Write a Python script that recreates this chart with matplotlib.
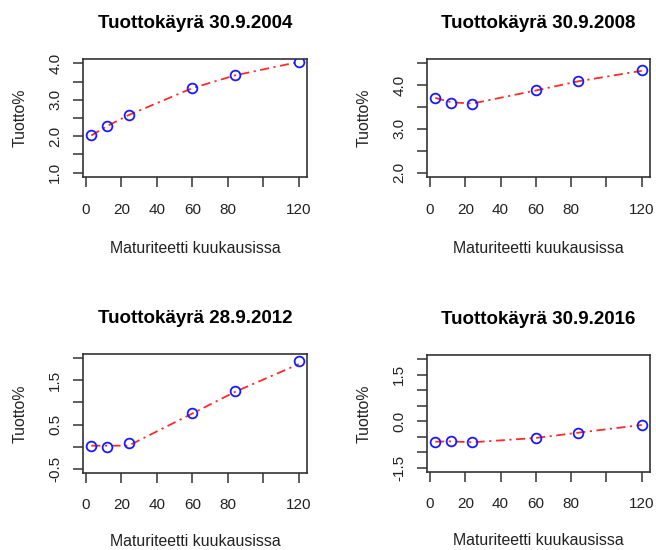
import numpy as np
import matplotlib
matplotlib.use("Agg")
from matplotlib import pyplot as plt

plt.rcParams['font.family'] = ['Liberation Sans', 'DejaVu Sans']

# maturiteetit kuukausina
maturities = [3, 12, 24, 60, 84, 120]

# havaitut tuotot (%)
yields_2004 = [2.02, 2.27, 2.57, 3.32, 3.67, 4.04]
yields_2008 = [3.71, 3.60, 3.58, 3.88, 4.09, 4.34]
yields_2012 = [0.02, -0.02, 0.07, 0.76, 1.27, 1.93]
yields_2016 = [-0.66, -0.64, -0.66, -0.53, -0.37, -0.11]

# sovitettu käyrä samoissa pisteissä
fit_2004 = [2.02, 2.28, 2.58, 3.32, 3.67, 4.04]
fit_2008 = [3.71, 3.61, 3.58, 3.88, 4.09, 4.33]
fit_2012 = [0.02, 0.02, 0.02, 0.75, 1.24, 1.87]
fit_2016 = [-0.66, -0.65, -0.68, -0.54, -0.37, -0.12]

titles = ["Tuottokäyrä 30.9.2004", "Tuottokäyrä 30.9.2008",
          "Tuottokäyrä 28.9.2012", "Tuottokäyrä 30.9.2016"]
ylims = [(1.0, 4.0), (2.0, 4.5), (-0.5, 2.0), (-1.5, 2.0)]
ylabels_shown = [[1.0, 2.0, 3.0, 4.0], [2.0, 3.0, 4.0],
                 [-0.5, 0.5, 1.5], [-1.5, 0.0, 1.5]]
x_ticks = [0, 20, 40, 60, 80, 100, 120]
x_ticklabels = ["0", "20", "40", "60", "80", "", "120"]

all_yields = [yields_2004, yields_2008, yields_2012, yields_2016]
all_fits = [fit_2004, fit_2008, fit_2012, fit_2016]

W, H = 656, 550
fig = plt.figure(figsize=(W / 100, H / 100), dpi=100)

# paneelien paikat pikseleinä: vasen, yläreuna, oikea, alareuna
boxes = [(83, 59, 307, 177), (427, 59, 650, 177),
         (83, 354, 307, 473), (427, 355, 650, 472)]

for i in range(4):
    l, t, r, b = boxes[i]
    ax = fig.add_axes([l / W, 1 - b / H, (r - l) / W, (b - t) / H])

    ax.plot(maturities, all_fits[i], color='#ff2a2a', lw=1.3,
            linestyle=(0, (5, 2.5, 1.2, 2.5)), zorder=2)
    ax.plot(maturities, all_yields[i], 'o', ms=7, mfc='none',
            mec='#1a1aff', mew=1.3, zorder=3)

    pad_x = 0.04 * (maturities[-1] - maturities[0])
    ax.set_xlim(maturities[0] - pad_x, maturities[-1] + pad_x)
    lo, hi = ylims[i]
    pad_y = 0.04 * (hi - lo)
    ax.set_ylim(lo - pad_y, hi + pad_y)

    ax.set_xticks(x_ticks)
    ax.set_xticklabels(x_ticklabels)
    yt = np.arange(lo, hi + 0.01, 0.5)
    ax.set_yticks(yt)
    ax.set_yticklabels(["%.1f" % v if any(abs(v - s) < 1e-9 for s in ylabels_shown[i]) else ""
                        for v in yt], rotation=90, va='center')

    bottom_row = i >= 2
    ax.tick_params(axis='x', length=7, width=1.1, color='#333333',
                   pad=11 if bottom_row else 12,
                   labelsize=11, labelcolor='#222222')
    ax.tick_params(axis='y', length=7, width=1.1, color='#333333', pad=8,
                   labelsize=11, labelcolor='#222222')
    for sp in ax.spines.values():
        sp.set_color('#333333')
        sp.set_linewidth(1.2)

    ax.set_title(titles[i], fontsize=13.5, fontweight='bold', pad=22)
    ax.set_xlabel("Maturiteetti kuukausissa", fontsize=11.4,
                  labelpad=15.5 if bottom_row else 17, color='#222222')
    ax.set_ylabel("Tuotto%", fontsize=11.4, labelpad=15, color='#222222')

fig.savefig("out.png", dpi=100, facecolor='white')
